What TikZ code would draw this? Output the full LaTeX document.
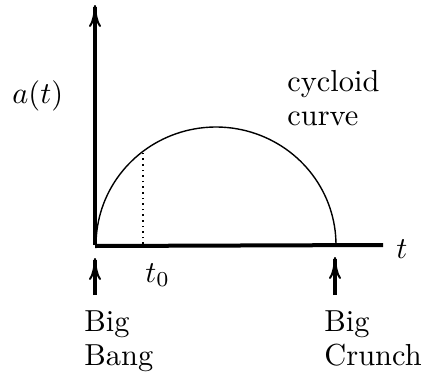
\documentclass[tikz,border=0pt]{standalone}
\usetikzlibrary{arrows.meta,calc}
\newcommand{\lbltext}[1]{\scalebox{1.52}{\fontsize{10}{11.2}\selectfont#1}}
\newcommand{\twoline}[2]{\lbltext{\begin{tabular}{@{}l@{}}#1\\#2\end{tabular}}}
\begin{document}
\begin{tikzpicture}[x=0.5pt,y=-0.5pt,
    axis/.style={line width=2pt},
    arr/.style={line width=2pt,-{To[length=11pt,width=6pt,line width=1pt]}},
    lbl/.style={inner sep=0pt},
    txt/.style={lbl,anchor=north west}
  ]
    \useasboundingbox (0,0) rectangle (422,375);
    % axes
    \coordinate (O) at (95,245);
    \coordinate (ytop) at (95,5);
    \coordinate (xend) at (383,245);
    \draw[axis] ($(O)+(0,1)$) -- (xend);
    \draw[arr] (O) -- (ytop);
    % curve and t_0
    \draw[line width=0.7pt] plot[domain=180:0,samples=80] ({216+120*cos(\x)},{245-118*sin(\x)});
    \coordinate (tfoot) at (143,244);
    \coordinate (ttop) at (143,150);
    \draw[dotted,line width=0.8pt] (tfoot) -- (ttop);
    % labels
    \node[lbl,anchor=base west] (alab) at (12,103) {\lbltext{$a(t)$}};
    \node[lbl,anchor=base west] (tlab) at (396,258) {\lbltext{$t$}};
    \node[lbl,anchor=base west] (t0lab) at (145,282) {\lbltext{$t_0$}};
    \node[txt] (curve) at (287,67) {\twoline{cycloid}{curve}};
    \node[txt] (bang) at (84,307) {\twoline{Big}{Bang}};
    \node[txt] (crunch) at (324,307) {\twoline{Big}{Crunch}};
    % events
    \coordinate (bangtail) at (95,295);
    \coordinate (bangtip) at (95,258);
    \coordinate (crunchtail) at (335,295);
    \coordinate (crunchtip) at (335,257);
    \draw[arr] (bangtail) -- (bangtip);
    \draw[arr] (crunchtail) -- (crunchtip);
\end{tikzpicture}
\end{document}
